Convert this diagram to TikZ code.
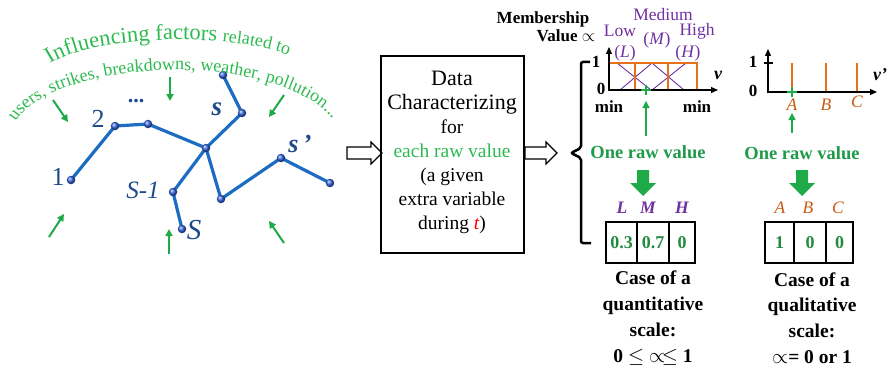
\documentclass[tikz,border=0pt]{standalone}
\usepackage{fontspec}
\setmainfont{Liberation Serif}
\usetikzlibrary{arrows.meta,decorations.text}
\pgfdeclarelayer{bg}
\pgfsetlayers{bg,main}

\definecolor{netblue}{HTML}{1C6CC4}
\definecolor{dotblue}{HTML}{3464E0}
\definecolor{labblue}{HTML}{1F4A8A}
\definecolor{fgreen}{HTML}{1EAA48}
\definecolor{tgreen}{HTML}{2DBA50}
\definecolor{dgreen}{HTML}{1E9A48}
\definecolor{vgreen}{HTML}{238A3E}
\definecolor{mpurple}{HTML}{7030A0}
\definecolor{morange}{HTML}{E8701A}
\definecolor{lorange}{HTML}{C85A14}

\begin{document}
\begin{tikzpicture}[x=1pt,y=-1pt,
  dot/.style={circle,inner sep=0pt,minimum size=8.5pt,shading=ball,ball color=dotblue,draw=none},
  edge/.style={netblue,line width=3.2pt,line cap=round},
  netlab/.style={labblue,inner sep=0pt,font=\fontsize{25}{25}\selectfont},
  gar/.style={fgreen,line width=2pt,-{Triangle[length=7pt,width=7pt]}},
  hollow/.style={draw=black,line width=1.2pt,fill=white},
  axis/.style={black,line width=1.2pt,-{Triangle[length=7pt,width=6pt]}},
  oline/.style={morange,line width=2.6pt},
  pline/.style={mpurple,line width=0.9pt},
  plab/.style={mpurple,inner sep=0pt,font=\fontsize{17.5}{17.5}\selectfont},
  blab/.style={black,inner sep=0pt,font=\bfseries\fontsize{17}{17}\selectfont},
  rawtxt/.style={dgreen,inner sep=0pt,font=\bfseries\fontsize{18.5}{18.5}\selectfont},
  bigdown/.style={fgreen,draw=none},
  cell/.style={draw=black,line width=1.2pt,minimum width=30pt,minimum height=41pt,inner sep=0pt,
               text=vgreen,font=\bfseries\fontsize{18}{18}\selectfont},
  casetxt/.style={black,align=center,inner sep=0pt,font=\bfseries\fontsize{19.5}{25.8}\selectfont}
]
\useasboundingbox (0,0) rectangle (888,369);

% ---------- transport network ----------
\node[dot] (n1) at (71,180) {};
\node[dot] (n2) at (115,126) {};
\node[dot] (n3) at (148,124) {};
\node[dot] (nc) at (206,148) {};
\node[dot] (ns) at (242,113) {};
\node[dot] (ntop) at (223,75) {};
\node[dot] (nsm) at (173,192) {};
\node[dot] (nS) at (182,229) {};
\node[dot] (nlow) at (221,199) {};
\node[dot] (nsp) at (281,158) {};
\node[dot] (nend) at (330,183) {};
\begin{pgfonlayer}{bg}
\draw[edge] (n1.center) -- (n2.center) -- (n3.center) -- (nc.center) -- (ns.center) -- (ntop.center);
\draw[edge] (nc.center) -- (nsm.center) -- (nS.center);
\draw[edge] (nc.center) -- (nlow.center) -- (nsp.center) -- (nend.center);
\end{pgfonlayer}

\node[netlab,font=\fontsize{26}{26}\selectfont] at (58,177) {1};
\node[netlab,font=\fontsize{26}{26}\selectfont] at (98,119) {2};
\node[netlab,font=\bfseries\fontsize{22}{22}\selectfont] at (136,101) {...};
\node[netlab,font=\bfseries\itshape\fontsize{27}{27}\selectfont] at (217,109) {s};
\node[netlab,font=\bfseries\itshape\fontsize{26}{26}\selectfont] at (300,144) {s\,’};
\node[netlab,font=\itshape\fontsize{25}{25}\selectfont] at (143,190) {S-1};
\node[netlab,font=\itshape\fontsize{29}{29}\selectfont] at (194,230) {S};

% influencing factors written along arcs
\path[decorate,decoration={text along path,text align=left,text color=tgreen,
  text={|\fontsize{22.5}{22.5}\selectfont|Influencing factors |\fontsize{18}{18}\selectfont|related to}}]
  (50,64) .. controls (97,32) and (255,32) .. (302,62);
\path[decorate,decoration={text along path,text align=left,text color=tgreen,
  text={|\fontsize{18}{18}\selectfont|users, strikes, breakdowns, weather, pollution...}}]
  (15.6,121.9) arc[start angle=195,end angle=352,x radius=165,y radius=70];

% green arrows pointing to the network
\draw[gar] (53,100) -- (68,122);
\draw[gar] (170,77) -- (170,101);
\draw[gar] (284,95) -- (269,117);
\draw[gar] (49,237) -- (64,214);
\draw[gar] (169,254) -- (169,229);
\draw[gar] (284,243) -- (269,221);

% ---------- characterizing box ----------
\draw[hollow] (347,147) -- (371,147) -- (371,142) -- (382,153) -- (371,164) -- (371,159) -- (347,159) -- cycle;
\node[draw=black,line width=1.2pt,minimum width=143pt,minimum height=197pt,inner sep=0pt] (box) at (452.5,154.5) {};
\node[align=center,inner sep=0pt,font=\fontsize{19.5}{24}\selectfont] at (452,152)
  {{\fontsize{22}{24}\selectfont Data}\\
   {\fontsize{22}{24}\selectfont Characterizing}\\
   for\\
   \textcolor{tgreen}{each raw value}\\
   (a given\\
   extra variable\\
   during \textcolor{red}{\itshape t})};
\draw[hollow] (525,147) -- (546,147) -- (546,142) -- (557,153) -- (546,164) -- (546,159) -- (525,159) -- cycle;

% brace grouping the two cases
\draw[black,line width=2.5pt,rounded corners=2pt] (590,62) -- (581,62) -- (581,148) -- (571,153) -- (581,158) -- (581,243) -- (591,243);

% ---------- quantitative membership chart ----------
\node[blab] at (543,19) {Membership};
\node[blab] at (566,36) {Value $\propto$};
\node[plab] at (663,15) {Medium};
\node[plab] at (620,31) {Low};
\node[plab] at (697,31) {High};
\node[plab] at (657,40) {(\textit{M})};
\node[plab] at (625,53) {(\textit{L})};
\node[plab] at (688,53) {(\textit{H})};

\draw[pline] (609,63) -- (617,63) -- (651,90);
\draw[pline] (620,90) -- (652,63) -- (684,90);
\draw[pline] (652,90) -- (686,63) -- (697,63);
\draw[oline] (609,90) -- (609,63) -- (697,63) -- (697,90);
\draw[oline] (635,63) -- (635,90);
\draw[oline] (668,63) -- (668,90);
\draw[axis] (609,91) -- (609,47);
\draw[axis] (608,90) -- (718,90);
\node[blab] at (601,89) {0};
\node[blab] at (596,62) {1};
\node[blab] at (609,107) {min};
\node[blab] at (697,107) {min};
\node[blab,font=\bfseries\itshape\fontsize{18}{18}\selectfont] at (718,75) {v};
\draw[fgreen,line width=1.6pt] (641,90) -- (651,90) (646,85) -- (646,95);
\draw[gar,line width=1.3pt] (646,136) -- (646,101);

\node[rawtxt] at (648,152) {One raw value};
\draw[bigdown,fill=fgreen] (637,170) -- (649,170) -- (649,183) -- (656,183) -- (643,196) -- (630,183) -- (637,183) -- cycle;

\node[plab,font=\bfseries\itshape\fontsize{17.5}{17.5}\selectfont] at (622,208) {L};
\node[plab,font=\bfseries\itshape\fontsize{17.5}{17.5}\selectfont] at (648,208) {M};
\node[plab,font=\bfseries\itshape\fontsize{17.5}{17.5}\selectfont] at (682,208) {H};
\node[cell,minimum width=31pt] (q1) at (621.5,242.5) {0.3};
\node[cell,minimum width=32pt] (q2) at (653,242.5) {0.7};
\node[cell,minimum width=26pt] (q3) at (682,242.5) {0};

\node[casetxt] at (653,318) {Case of a\\quantitative\\scale:\\0 $\leq$ $\propto\!\leq$ 1};

% ---------- qualitative membership chart ----------
\draw[oline] (792,63) -- (792,92);
\draw[oline] (826,63) -- (826,92);
\draw[oline] (857,63) -- (857,92);
\draw[axis] (768,93) -- (768,49);
\draw[axis] (767,92) -- (877,92);
\draw[black,line width=1.2pt] (764,63) -- (773,63);
\node[blab] at (753,62) {1};
\node[blab] at (753,91) {0};
\node[blab,font=\bfseries\itshape\fontsize{18}{18}\selectfont] at (880,75) {v’};
\draw[fgreen,line width=1.6pt] (787,92) -- (797,92) (792,87) -- (792,97);
\node[lorange,inner sep=0pt,font=\itshape\fontsize{17.5}{17.5}\selectfont] at (792,105) {A};
\node[lorange,inner sep=0pt,font=\itshape\fontsize{17.5}{17.5}\selectfont] at (826,105) {B};
\node[lorange,inner sep=0pt,font=\itshape\fontsize{17.5}{17.5}\selectfont] at (857,102) {C};
\draw[gar,line width=1.3pt] (792,133) -- (792,113);

\node[rawtxt] at (802,153) {One raw value};
\draw[bigdown,fill=fgreen] (796,170) -- (808,170) -- (808,183) -- (815,183) -- (802,196) -- (789,183) -- (796,183) -- cycle;

\node[lorange,inner sep=0pt,font=\itshape\fontsize{17.5}{17.5}\selectfont] at (780,208) {A};
\node[lorange,inner sep=0pt,font=\itshape\fontsize{17.5}{17.5}\selectfont] at (808,208) {B};
\node[lorange,inner sep=0pt,font=\itshape\fontsize{17.5}{17.5}\selectfont] at (838,208) {C};
\node[cell,minimum width=29pt] (c1) at (779.5,242.5) {1};
\node[cell,minimum width=32pt] (c2) at (810,242.5) {0};
\node[cell,minimum width=27pt] (c3) at (839.5,242.5) {0};

\node[casetxt] at (812,318) {Case of a\\qualitative\\scale:\\$\propto$= 0 or 1};
\end{tikzpicture}
\end{document}
